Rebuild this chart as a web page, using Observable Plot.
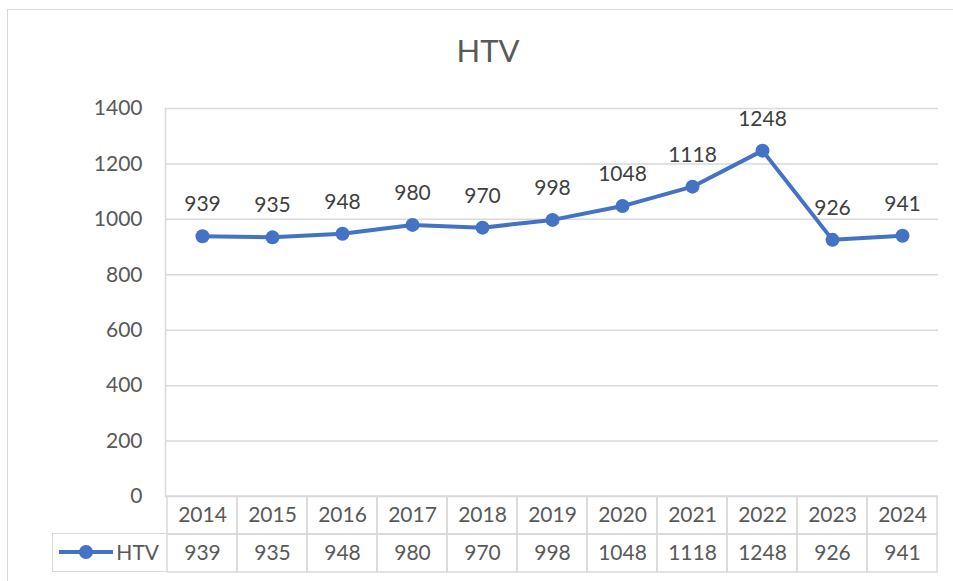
<!DOCTYPE html>
<html>
<head>
<meta charset="utf-8">
<script src="https://cdn.jsdelivr.net/npm/d3@7"></script>
<script src="https://cdn.jsdelivr.net/npm/@observablehq/plot@0.6"></script>
<style>
  html, body { margin: 0; padding: 0; background: #fff; }
  #wrap { position: relative; width: 953px; height: 581px; overflow: hidden; font-family: Lato, "Noto Sans", sans-serif; }
  #border { position: absolute; left: 7px; top: 9px; width: 1100px; height: 700px; border: 1.5px solid #d9d9d9; box-sizing: border-box; }
  #title { position: absolute; left: 0; top: 30px; width: 976px; text-align: center; font-size: 31px; line-height: 40px; color: #595959; }
  #main, #table { position: absolute; left: 0; }
  #main { top: 0; }
  #table { top: 495px; }
  #legend { position: absolute; left: 52px; top: 533px; width: 114px; height: 39px; box-sizing: border-box;
            border: 1.5px solid #d9d9d9; border-right: none; }
  #legend svg { position: absolute; left: 0; top: 0; }
  #legend span { position: absolute; right: 7px; top: 7px; font-size: 21px; line-height: 22px; color: #595959; }
</style>
</head>
<body>
<div id="wrap">
  <div id="border"></div>
  <div id="title">HTV</div>
  <div id="main"></div>
  <div id="table"></div>
  <div id="legend">
    <svg width="70" height="36"><line x1="6" x2="60" y1="18" y2="18" stroke="#4472C4" stroke-width="4"/><circle cx="33" cy="18" r="7" fill="#4472C4"/></svg>
    <span>HTV</span>
  </div>
</div>
<script>
const years = ["2014","2015","2016","2017","2018","2019","2020","2021","2022","2023","2024"];
const values = [939, 935, 948, 980, 970, 998, 1048, 1118, 1248, 926, 941];
const yTicks = [0, 200, 400, 600, 800, 1000, 1200, 1400];
const seriesName = "HTV";

const data = years.map((year, i) => ({year, value: values[i]}));
const tableData = [
  ...years.map(year => ({year, row: "year", label: year})),
  ...years.map((year, i) => ({year, row: "value", label: String(values[i])}))
];

const font = "Lato, 'Noto Sans', sans-serif";

const main = Plot.plot({
  width: 953,
  height: 497,
  marginTop: 108,
  marginBottom: 1,
  marginLeft: 165,
  marginRight: 15,
  style: {fontFamily: font, fontSize: "21px", color: "#595959", background: "transparent", overflow: "visible"},
  x: {type: "point", domain: years, padding: 0.5, axis: null},
  y: {domain: [0, 1400], ticks: yTicks, tickFormat: d => String(d), tickSize: 0, tickPadding: 23, label: null},
  marks: [
    Plot.ruleY(yTicks, {stroke: "#d9d9d9", strokeWidth: 1.5}),
    Plot.frame({anchor: "left", stroke: "#d9d9d9", strokeWidth: 1.5}),
    Plot.line(data, {x: "year", y: "value", stroke: "#4472C4", strokeWidth: 4}),
    Plot.dot(data, {x: "year", y: "value", r: 7, fill: "#4472C4"}),
    Plot.text(data, {x: "year", y: "value", text: d => String(d.value), dy: -25, lineAnchor: "bottom", fontSize: 21, fill: "#404040"})
  ]
});
document.getElementById("main").appendChild(main);

const table = Plot.plot({
  width: 953,
  height: 78,
  marginTop: 1,
  marginBottom: 1,
  marginLeft: 165,
  marginRight: 15,
  style: {fontFamily: font, fontSize: "21px", color: "#595959", background: "transparent", overflow: "visible"},
  x: {type: "band", domain: years, padding: 0, axis: null},
  y: {type: "band", domain: ["year", "value"], padding: 0, axis: null},
  marks: [
    Plot.cell(tableData, {x: "year", y: "row", fill: "none", stroke: "#d9d9d9", strokeWidth: 1.5, inset: 0}),
    Plot.text(tableData, {x: "year", y: "row", text: "label", fontSize: 21, fill: "#595959"})
  ]
});
document.getElementById("table").appendChild(table);
</script>
</body>
</html>
